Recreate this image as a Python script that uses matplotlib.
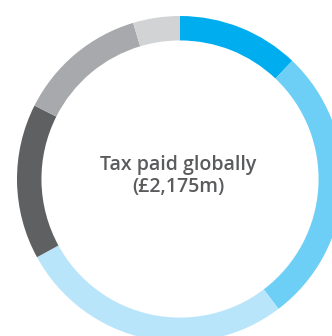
import matplotlib
matplotlib.use("Agg")
import matplotlib.pyplot as plt

# tax paid by category, £m (clockwise from 12 o'clock)
segments = ["A", "B", "C", "D", "E", "F"]
values = [263, 600, 595, 335, 281, 101]
colors = ["#00AEEF", "#6DCFF6", "#B9E5FA", "#5F6062", "#A7A9AC", "#D1D3D4"]
centre_label = "Tax paid globally\n(£2,175m)"

W, H = 332, 336
fig = plt.figure(figsize=(W / 100, H / 100), dpi=100)
ax = fig.add_axes([0, 0, 1, 1])

cx, cy, r = 180, H - 179, 163
ax.pie(values, colors=colors, startangle=90, counterclock=False,
       center=(cx, cy), radius=r, frame=True,
       wedgeprops=dict(width=r * 0.15, linewidth=0))
ax.set_xlim(0, W)
ax.set_ylim(0, H)
ax.set_aspect("equal")
ax.axis("off")

ax.text(178, cy + 3, centre_label, ha="center", va="center",
        fontsize=14, family="Open Sans", fontweight=600, color="#5A5B5D",
        linespacing=1.1)

fig.savefig("out.png", dpi=100)
